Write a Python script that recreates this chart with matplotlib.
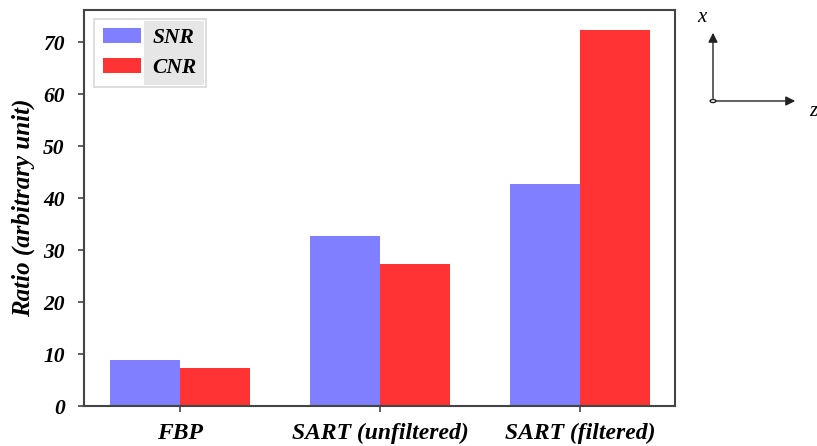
import matplotlib
matplotlib.use('Agg')
import matplotlib.pyplot as plt
from matplotlib.patches import Rectangle, Circle, FancyArrowPatch
import numpy as np

# data
categories = ['FBP', 'SART (unfiltered)', 'SART (filtered)']
snr = [8.8, 32.8, 42.8]
cnr = [7.3, 27.4, 72.3]
yticks = [0, 10, 20, 30, 40, 50, 60, 70]

SNR_COLOR = '#7f7fff'
CNR_COLOR = '#ff3333'
FONT = dict(family='Liberation Serif', weight='bold', style='italic')

fig = plt.figure(figsize=(8.17, 4.46), dpi=100)
ax = fig.add_axes([84 / 817, 1 - 406 / 446, (675 - 84) / 817, (406 - 10) / 446])

x = np.arange(len(categories))
w = 0.35
ax.bar(x - w / 2, snr, w, color=SNR_COLOR, label='SNR')
ax.bar(x + w / 2, cnr, w, color=CNR_COLOR, label='CNR')

ax.set_xlim(-0.48, 2.475)
ax.set_ylim(0, 76.2)
ax.set_xticks(x)
ax.set_xticklabels(categories, fontsize=17, **FONT)
ax.set_yticks(yticks)
ax.set_yticklabels([str(t) for t in yticks], fontsize=15.5, **FONT)
ax.set_ylabel('Ratio (arbitrary unit)', fontsize=18, labelpad=6, **FONT)
ax.tick_params(axis='both', direction='out', length=4, width=1.2, color='#444444')
ax.tick_params(axis='x', pad=8)
ax.tick_params(axis='y', pad=10)
for s in ax.spines.values():
    s.set_color('#444444')
    s.set_linewidth(1.5)

leg = ax.legend(loc='upper left', bbox_to_anchor=(0.017, 0.977), borderaxespad=0,
                prop=dict(size=15.5, **FONT),
                handlelength=1.75, handleheight=0.7, labelspacing=0.45, borderpad=0.42,
                handletextpad=0.55, facecolor='none', edgecolor='none', framealpha=1)
leg.set_zorder(6)

# legend background: white behind the handles, grey behind the texts
fig.canvas.draw()
inv = ax.transAxes.inverted()
lb = leg.get_window_extent()
tb = leg.get_texts()[0].get_window_extent()
(lx0, ly0), (lx1, ly1) = inv.transform([(lb.x0, lb.y0), (lb.x1, lb.y1)])
gx0 = inv.transform((tb.x0 - 9, 0))[0]
ax.add_patch(Rectangle((lx0, ly0), lx1 - lx0, ly1 - ly0, transform=ax.transAxes,
                       facecolor='white', edgecolor='#d8d8d8', lw=1.2, zorder=4))
ax.add_patch(Rectangle((gx0, ly0 + 0.004), lx1 - gx0 - 0.003, ly1 - ly0 - 0.008, transform=ax.transAxes,
                       facecolor='#e6e6e6', edgecolor='none', zorder=5))

# coordinate system sketch on the right
ox, oy = 713 / 817, 1 - 101 / 446
fig.add_artist(FancyArrowPatch((ox, oy), (ox, 1 - 30 / 446), transform=fig.transFigure,
                               arrowstyle='-|>', mutation_scale=14, color='#222222', lw=1))
fig.add_artist(FancyArrowPatch((ox, oy), (798 / 817, oy), transform=fig.transFigure,
                               arrowstyle='-|>', mutation_scale=14, color='#222222', lw=1))
fig.add_artist(Circle((ox, oy), 0.0035, transform=fig.transFigure, facecolor='white',
                      edgecolor='#222222', lw=1))
fig.text(702 / 817, 1 - 17 / 446, 'x', fontsize=15, ha='center', va='center',
         family='Liberation Serif', style='italic')
fig.text(809 / 817, 1 - 111 / 446, 'z', fontsize=15, ha='left', va='center',
         family='Liberation Serif', style='italic')

fig.savefig('out.png', dpi=100)
